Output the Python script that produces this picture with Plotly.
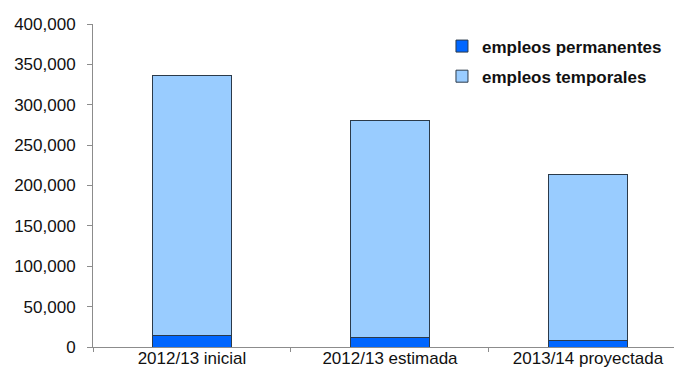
import plotly.graph_objects as go

categories = ["2012/13 inicial", "2012/13 estimada", "2013/14 proyectada"]
permanentes = [14000, 11500, 8500]
temporales = [322500, 269500, 205700]
y_ticks = [0, 50000, 100000, 150000, 200000, 250000, 300000, 350000, 400000]

font_family = "Liberation Sans, Arial, sans-serif"
outline = dict(color="#2b3a4a", width=1)

fig = go.Figure()
fig.add_trace(go.Bar(x=categories, y=permanentes, name="empleos permanentes",
                     marker=dict(color="#0066ff", line=outline), width=0.4,
                     legendgroup="a"))
fig.add_trace(go.Bar(x=categories, y=temporales, name="empleos temporales",
                     marker=dict(color="#99ccff", line=outline), width=0.4,
                     legendgroup="b"))

fig.update_layout(
    width=674, height=369,
    margin=dict(l=85, r=0, t=16, b=30),
    barmode="stack",
    plot_bgcolor="white", paper_bgcolor="white",
    font=dict(family=font_family, size=17, color="#111111"),
    showlegend=True,
    legend=dict(x=0.5925, y=0.986, xanchor="left", yanchor="top",
                traceorder="grouped", tracegroupgap=5,
                font=dict(family=font_family, size=17, color="#111111", weight="bold"),
                bgcolor="rgba(0,0,0,0)"),
    xaxis=dict(type="category", range=[-0.5, 2.475], showline=True, automargin=False,
               linecolor="#8c8c8c", linewidth=1, ticks="outside", tickson="boundaries",
               ticklen=4, tickcolor="#8c8c8c", showgrid=False, zeroline=False,
               ticklabelstandoff=-4, tickfont=dict(size=17)),
    yaxis=dict(range=[0, 400000], tickvals=y_ticks, tickformat=",", showline=True,
               automargin=False,
               linecolor="#8c8c8c", linewidth=1, ticks="outside", ticklen=5,
               tickcolor="#8c8c8c", showgrid=False, zeroline=False,
               ticklabelstandoff=8, tickfont=dict(size=17)),
)

fig.write_html("out.html")
